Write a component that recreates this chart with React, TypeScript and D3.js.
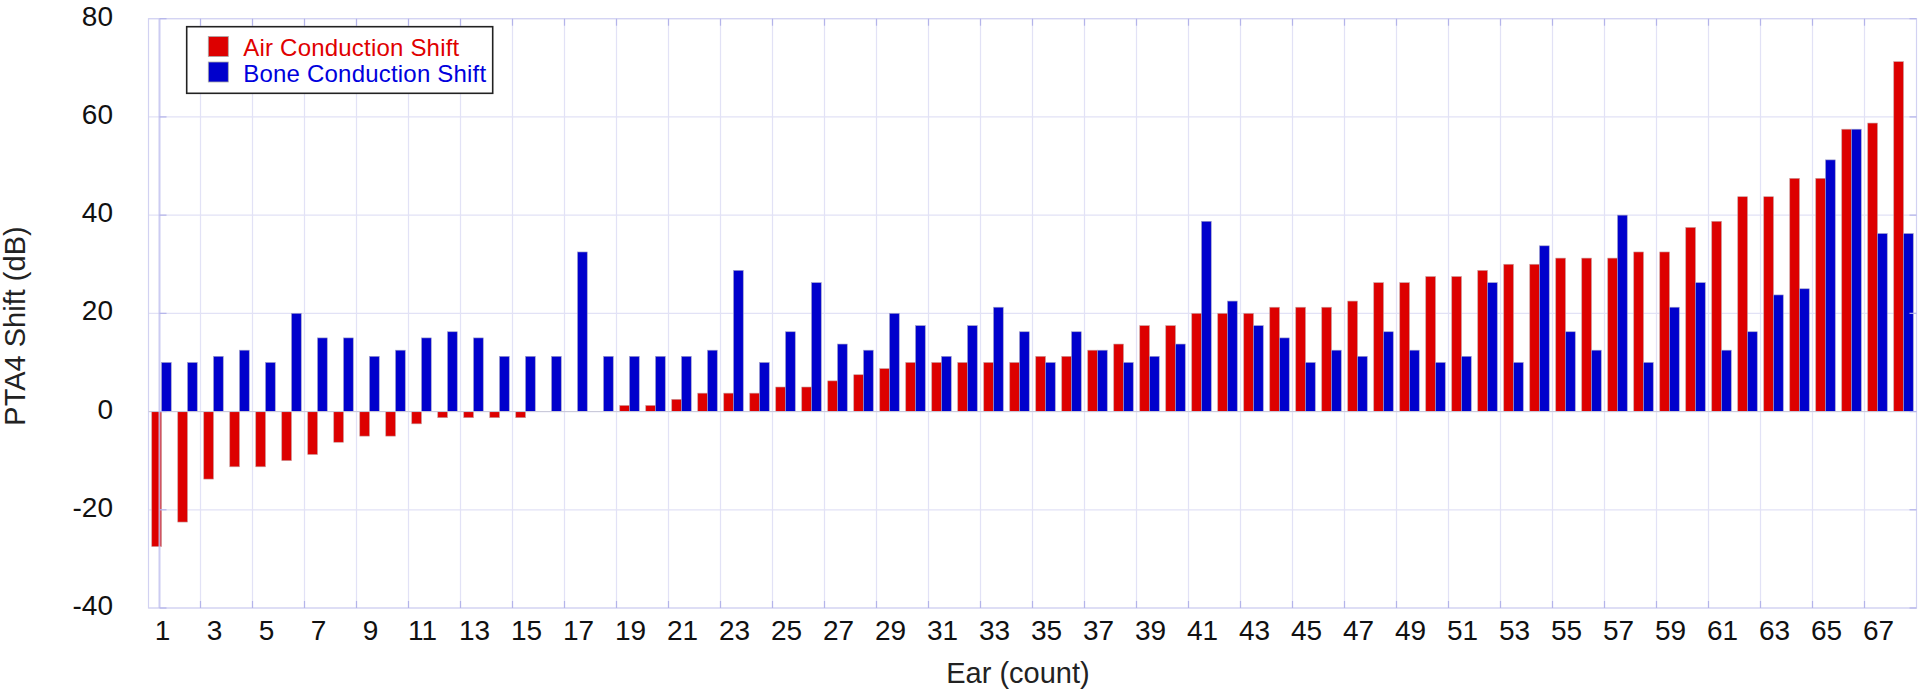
import React from "react";
import * as d3 from "d3";

const categories: string[] = Array.from({ length: 68 }, (_, i) => String(i + 1));
const airShift: number[] = [
  -27.5, -22.5, -13.75, -11.25, -11.25, -10, -8.75, -6.25, -5, -5,
  -2.5, -1.25, -1.25, -1.25, -1.25, 0, 0, 0, 1.25, 1.25,
  2.5, 3.75, 3.75, 3.75, 5, 5, 6.25, 7.5, 8.75, 10,
  10, 10, 10, 10, 11.25, 11.25, 12.5, 13.75, 17.5, 17.5,
  20, 20, 20, 21.25, 21.25, 21.25, 22.5, 26.25, 26.25, 27.5,
  27.5, 28.75, 30, 30, 31.25, 31.25, 31.25, 32.5, 32.5, 37.5,
  38.75, 43.75, 43.75, 47.5, 47.5, 57.5, 58.75, 71.25,
];
const boneShift: number[] = [
  10, 10, 11.25, 12.5, 10, 20, 15, 15, 11.25, 12.5,
  15, 16.25, 15, 11.25, 11.25, 11.25, 32.5, 11.25, 11.25, 11.25,
  11.25, 12.5, 28.75, 10, 16.25, 26.25, 13.75, 12.5, 20, 17.5,
  11.25, 17.5, 21.25, 16.25, 10, 16.25, 12.5, 10, 11.25, 13.75,
  38.75, 22.5, 17.5, 15, 10, 12.5, 11.25, 16.25, 12.5, 10,
  11.25, 26.25, 10, 33.75, 16.25, 12.5, 40, 10, 21.25, 26.25,
  12.5, 16.25, 23.75, 25, 51.25, 57.5, 36.25, 36.25,
];
const yTicks: number[] = [-40, -20, 0, 20, 40, 60, 80];
const xTickLabels: string[] = categories.filter((_, i) => i % 2 === 0);
const seriesNames: string[] = ["Air Conduction Shift", "Bone Conduction Shift"];

const W = 1920;
const H = 693;
const left = 148.5;
const right = 1916.5;
const top = 18.7;
const bottom = 608;

const RED = "#dd0000";
const BLUE = "#0000cc";
const FONT = "'Liberation Sans', Arial, Helvetica, sans-serif";

export default function App() {
  const x = d3.scaleBand<string>().domain(categories).range([left, right]).paddingInner(0.25).paddingOuter(0.125);
  const step = x.step();
  const bw = x.bandwidth() / 2;
  const y = d3.scaleLinear().domain([-40, 80]).range([bottom, top]);
  const bandStart = (c: string) => (x(c) as number) - step * 0.125;
  const center = (c: string) => (x(c) as number) + x.bandwidth() / 2;

  const vBoundaries = categories.filter((_, i) => i > 0 && i % 2 === 0).map(bandStart);
  const axisX = center(categories[0]) - 2;

  const gridColor = "#e2e2f6";
  const tickColor = "#b4b4ea";

  return (
    <svg width={W} height={H} style={{ position: "absolute", left: 0, top: 0, background: "#fff" }}>
      {/* horizontal grid */}
      {yTicks.map((t) => (
        <line key={"h" + t} x1={left} x2={right} y1={y(t)} y2={y(t)} stroke={gridColor} strokeWidth={1.2} />
      ))}
      {/* vertical grid */}
      {vBoundaries.map((v, i) => (
        <line key={"v" + i} x1={v} x2={v} y1={top} y2={bottom} stroke={gridColor} strokeWidth={1.2} />
      ))}
      {/* frame */}
      <rect x={left} y={top} width={right - left} height={bottom - top} fill="none" stroke="#d2d2f2" strokeWidth={1.2} />
      {/* bars */}
      {categories.map((c, i) => (
        <g key={"b" + c}>
          <rect
            x={x(c) as number}
            y={Math.min(y(airShift[i]), y(0))}
            width={bw}
            height={Math.abs(y(airShift[i]) - y(0))}
            fill={RED}
            stroke="#c8a0a0"
            strokeWidth={0.6}
          />
          <rect
            x={(x(c) as number) + bw}
            y={Math.min(y(boneShift[i]), y(0))}
            width={bw}
            height={Math.abs(y(boneShift[i]) - y(0))}
            fill={BLUE}
            stroke="#a0a0c8"
            strokeWidth={0.6}
          />
        </g>
      ))}
      {/* zero line */}
      <line x1={left} x2={right} y1={y(0)} y2={y(0)} stroke="#c8c8d8" strokeWidth={1} />
      {/* inner axis line */}
      <line x1={axisX} x2={axisX} y1={top} y2={bottom} stroke="#c4c4f0" strokeWidth={2} opacity={0.85} />
      {/* tick marks */}
      {yTicks.map((t) => (
        <g key={"t" + t}>
          <line x1={axisX} x2={axisX + 7} y1={y(t)} y2={y(t)} stroke={tickColor} strokeWidth={1.2} />
          <line x1={right - 7} x2={right} y1={y(t)} y2={y(t)} stroke={tickColor} strokeWidth={1.2} />
        </g>
      ))}
      {vBoundaries.map((v, i) => (
        <g key={"vt" + i}>
          <line x1={v} x2={v} y1={top} y2={top + 7} stroke={tickColor} strokeWidth={1.2} />
          <line x1={v} x2={v} y1={bottom - 7} y2={bottom} stroke={tickColor} strokeWidth={1.2} />
        </g>
      ))}
      {/* y tick labels */}
      {yTicks.map((t) => (
        <text
          key={"yl" + t}
          x={113}
          y={Math.max(y(t) - 2.5, 12)}
          textAnchor="end"
          dominantBaseline="central"
          fontFamily={FONT}
          fontSize={28}
          fill="#111"
        >
          {t}
        </text>
      ))}
      {/* x tick labels */}
      {xTickLabels.map((c) => (
        <text key={"xl" + c} x={center(c) + 1} y={640} textAnchor="middle" fontFamily={FONT} fontSize={28} fill="#111">
          {c}
        </text>
      ))}
      {/* axis titles */}
      <text x={1018} y={683} textAnchor="middle" fontFamily={FONT} fontSize={29} fill="#222">
        Ear (count)
      </text>
      <text
        transform={`translate(25,326) rotate(-90)`}
        textAnchor="middle"
        fontFamily={FONT}
        fontSize={29}
        fill="#222"
      >
        PTA4 Shift (dB)
      </text>
      {/* legend */}
      <g>
        <rect x={186.7} y={26.7} width={306} height={66.6} fill="#fff" stroke="#222" strokeWidth={1.6} />
        {seriesNames.map((s, i) => (
          <g key={s}>
            <rect x={208.3} y={36.5 + i * 25.5} width={20} height={20} fill={i === 0 ? RED : BLUE} stroke="#aaa" strokeWidth={0.8} />
            <text
              x={243.3}
              y={56 + i * 25.5}
              fontFamily={FONT}
              fontSize={24}
              letterSpacing={0.2}
              fill={i === 0 ? "#e00000" : "#0000dd"}
            >
              {s}
            </text>
          </g>
        ))}
      </g>
    </svg>
  );
}
